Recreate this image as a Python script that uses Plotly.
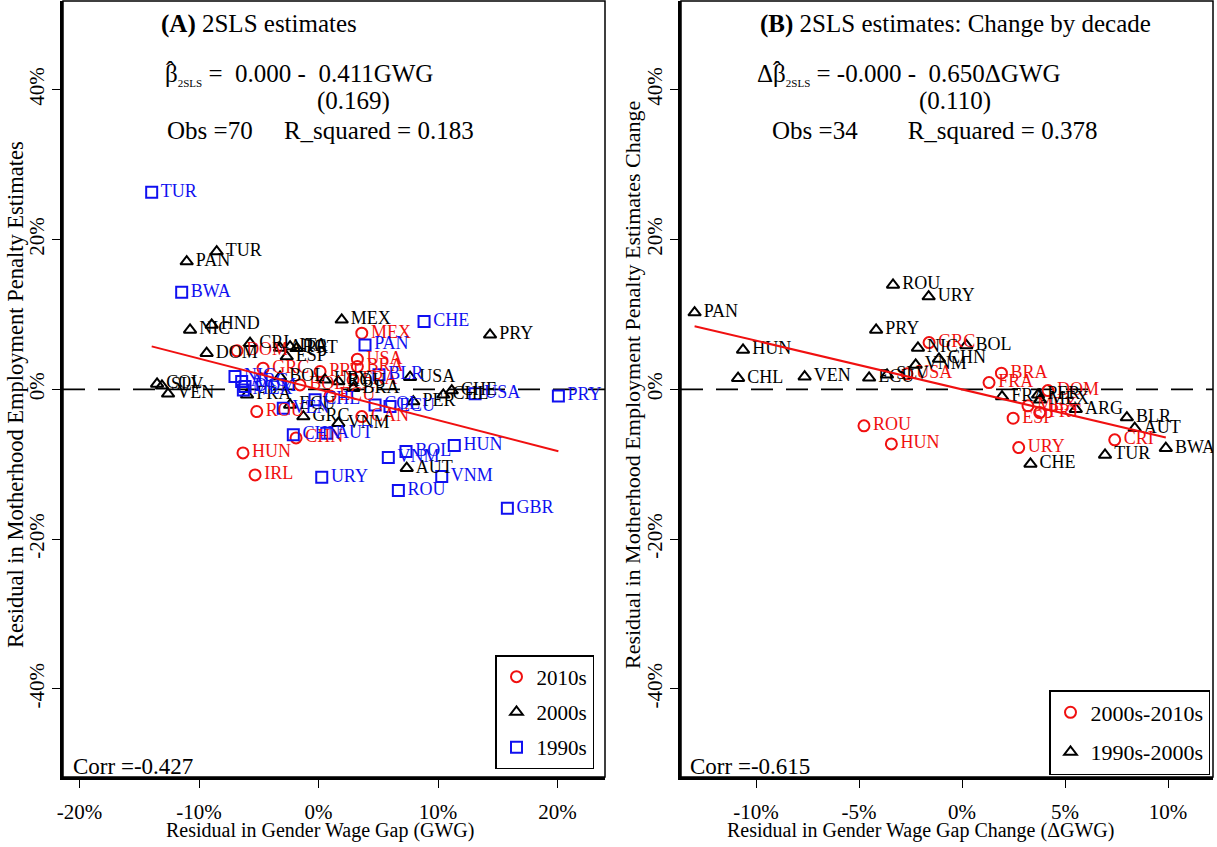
import plotly.graph_objects as go

FONT = "Liberation Serif"
RED = "#F01010"
BLACK = "#000000"
BLUE = "#1010F0"

# ---------------- Panel A data (residuals, %) ----------------
a10_lab = ["DOM", "GRC", "PRT", "MEX", "USA", "BRA", "BOL", "ECU", "FRA", "CAN", "ROU", "CHN", "HUN", "IRL"]
a10_x = [-6.82, -4.64, 0.13, 3.62, 3.25, 3.25, -1.55, 0.96, 2.89, 3.62, -5.17, -1.88, -6.32, -5.31]
a10_y = [5.14, 2.83, 2.38, 7.50, 4.03, 3.04, 0.60, -0.87, 1.27, -3.63, -2.96, -6.48, -8.48, -11.42]

a00_lab = ["TUR", "PAN", "NIC", "HND", "DOM", "CRI", "ARG", "ITA", "PRT", "ESP", "MEX", "PRY",
           "COL", "SLV", "VEN", "BOL", "FRA", "ECU", "URY", "ROU", "BRA", "USA", "CHL", "CHE",
           "PER", "GRC", "VNM", "AUT"]
a00_x = [-8.52, -11.03, -10.75, -8.94, -9.36, -5.73, -3.22, -2.38, -1.82, -2.66, 1.94, 14.35,
         -13.51, -13.10, -12.59, -3.22, -5.98, -2.38, 0.54, 1.66, 2.91, 7.66, 10.44, 11.15,
         7.93, -1.27, 1.66, 7.38]
a00_y = [18.40, 17.06, 7.94, 8.61, 4.83, 6.17, 5.54, 5.71, 5.50, 4.38, 9.28, 7.28,
         0.73, 0.47, -0.60, 1.67, -0.73, -2.07, 1.27, 1.04, 0.16, 1.63, -0.73, -0.16,
         -1.63, -3.63, -4.51, -10.52]

a90_lab = ["TUR", "BWA", "CHE", "PAN", "BLR", "USA", "PRY", "NIC", "ARG", "DOM", "MEX", "VEN",
           "CHL", "COL", "ECU", "CHN", "AUT", "HUN", "BOL", "VNM", "VNM", "URY", "ROU", "GBR"]
a90_x = [-13.96, -11.45, 8.83, 3.89, 5.06, 13.10, 20.07, -6.99, -6.43, -6.15, -6.29, -2.95,
         -0.29, 4.73, 5.98, -2.11, 0.69, 11.36, 7.32, 5.84, 10.31, 0.27, 6.68, 15.80]
a90_y = [26.33, 12.98, 9.05, 5.94, 1.94, -0.60, -0.87, 1.71, 1.04, 0.37, -0.07, -2.51,
         -1.40, -2.07, -2.30, -6.07, -5.85, -7.50, -8.30, -9.10, -11.64, -11.72, -13.51, -15.86]

# ---------------- Panel B data (changes, %) ----------------
b10_lab = ["GRC", "USA", "BRA", "FRA", "DOM", "MEX", "PRT", "ESP", "URY", "CRI", "ROU", "HUN"]
b10_x = [-1.60, -2.67, 1.91, 1.31, 4.17, 3.20, 3.77, 2.48, 2.75, 7.41, -4.76, -3.43]
b10_y = [6.25, 2.07, 2.16, 0.91, -0.16, -2.20, -3.10, -3.85, -7.77, -6.74, -4.87, -7.28]

b00_lab = ["PAN", "HUN", "CHL", "VEN", "ECU", "SLV", "PRY", "ROU", "URY", "NIC", "VNM",
           "CHN", "BOL", "FRA", "PER", "MEX", "ARG", "BLR", "AUT", "BWA", "TUR", "CHE"]
b00_x = [-12.98, -10.63, -10.87, -7.64, -4.51, -3.64, -4.17, -3.35, -1.62, -2.14, -2.25,
         -1.12, 0.21, 1.94, 3.69, 3.79, 5.52, 8.00, 8.38, 9.89, 6.94, 3.32]
b00_y = [10.25, 5.27, 1.50, 1.70, 1.54, 1.94, 7.94, 13.95, 12.39, 5.54, 3.27,
         4.07, 5.87, -0.96, -0.73, -1.40, -2.64, -3.76, -5.18, -7.85, -8.75, -9.95]

# fitted coefficients (reported in the chart)
coef_a = [0.000, -0.411]   # intercept, slope
coef_b = [-0.000, -0.650]

# axis ticks
xa_vals = [-20, -10, 0, 10, 20]
xa_text = ["-20%", "-10%", "0%", "10%", "20%"]
xb_vals = [-10, -5, 0, 5, 10]
xb_text = ["-10%", "-5%", "0%", "5%", "10%"]
y_vals = [-40, -20, 0, 20, 40]
y_text = ["-40%", "-20%", "0%", "20%", "40%"]

# ---------------- layout geometry ----------------
W, H = 1217, 847
L, R, T, B = 63, 4, 1, 70
PW, PH = W - L - R, H - T - B


def px(xp):
    return (xp - L) / PW


def py(yp):
    return (H - B - yp) / PH


fig = go.Figure()

MS = 11


def add_markers(x, y, sym, color, name, xa, ya, legend):
    fig.add_trace(go.Scatter(
        x=x, y=y, mode="markers", name=name, xaxis=xa, yaxis=ya,
        legend=legend, legendgroup=name + legend,
        marker=dict(symbol=sym, size=MS, color=color, line=dict(width=2, color=color)),
        hoverinfo="skip"))


def add_labels(x, y, lab, color, xa, ya):
    fig.add_trace(go.Scatter(
        x=x, y=y, mode="markers+text", text=lab, textposition="middle right",
        textfont=dict(family=FONT, size=18, color=color), xaxis=xa, yaxis=ya,
        marker=dict(size=MS + 2, color="rgba(0,0,0,0)"), showlegend=False, hoverinfo="skip"))


# Panel A
add_markers(a10_x, a10_y, "circle-open", RED, "2010s", "x", "y", "legend")
add_markers(a00_x, a00_y, "triangle-up-open", BLACK, "2000s", "x", "y", "legend")
add_markers(a90_x, a90_y, "square-open", BLUE, "1990s", "x", "y", "legend")
add_labels(a10_x, a10_y, a10_lab, RED, "x", "y")
add_labels(a00_x, a00_y, a00_lab, BLACK, "x", "y")
add_labels(a90_x, a90_y, a90_lab, BLUE, "x", "y")

# Panel B
add_markers(b10_x, b10_y, "circle-open", RED, "2000s-2010s", "x2", "y2", "legend2")
add_markers(b00_x, b00_y, "triangle-up-open", BLACK, "1990s-2000s", "x2", "y2", "legend2")
add_labels(b10_x, b10_y, b10_lab, RED, "x2", "y2")
add_labels(b00_x, b00_y, b00_lab, BLACK, "x2", "y2")

# fitted lines
ax_all = a10_x + a00_x + a90_x
fa = [min(ax_all), max(ax_all)]
fig.add_trace(go.Scatter(x=fa, y=[coef_a[0] + coef_a[1] * v for v in fa], mode="lines",
                         line=dict(color=RED, width=2), xaxis="x", yaxis="y",
                         showlegend=False, hoverinfo="skip"))
bx_all = b10_x + b00_x
fb = [min(bx_all), max(bx_all)]
fig.add_trace(go.Scatter(x=fb, y=[coef_b[0] + coef_b[1] * v for v in fb], mode="lines",
                         line=dict(color=RED, width=2), xaxis="x2", yaxis="y2",
                         showlegend=False, hoverinfo="skip"))

axis_common = dict(showgrid=False, zeroline=False, showline=True, linecolor="black",
                   linewidth=2.5, ticks="outside", ticklen=8, tickwidth=1.3, tickcolor="black",
                   tickfont=dict(family=FONT, size=21, color="black"))

fig.update_layout(
    width=W, height=H, margin=dict(l=L, r=R, t=T, b=B),
    paper_bgcolor="white", plot_bgcolor="white",
    font=dict(family=FONT, color="black"),
    xaxis=dict(domain=[0, px(605)], range=[-21.38, 23.97], tickmode="array",
               tickvals=xa_vals, ticktext=xa_text, anchor="y", ticklabelstandoff=6, **axis_common),
    yaxis=dict(domain=[0, 1], range=[-51.75, 51.85], tickmode="array", tickvals=y_vals,
               ticktext=y_text, tickangle=-90, anchor="x", **axis_common),
    xaxis2=dict(domain=[px(681), 1], range=[-13.64, 12.18], tickmode="array",
                tickvals=xb_vals, ticktext=xb_text, anchor="y2", ticklabelstandoff=6, **axis_common),
    yaxis2=dict(domain=[0, 1], range=[-51.75, 51.85], tickmode="array", tickvals=y_vals,
                ticktext=y_text, tickangle=-90, anchor="x2", **axis_common),
    legend=dict(x=px(594), xanchor="right", y=py(655), yanchor="top", bgcolor="white",
                bordercolor="black", borderwidth=1.5, font=dict(family=FONT, size=21),
                tracegroupgap=5, traceorder="grouped"),
    legend2=dict(x=px(1210), xanchor="right", y=py(690), yanchor="top", bgcolor="white",
                 bordercolor="black", borderwidth=1.5, font=dict(family=FONT, size=22),
                 tracegroupgap=8, traceorder="grouped"),
    showlegend=True,
)

# frames and zero lines
for xr, yr in [("x domain", "y domain"), ("x2 domain", "y2 domain")]:
    fig.add_shape(type="rect", xref=xr, yref=yr, x0=0, x1=1, y0=0, y1=1,
                  line=dict(color="black", width=1.5), layer="above")
fig.add_shape(type="line", xref="x domain", yref="y", x0=0, x1=1, y0=0, y1=0,
              line=dict(color="black", width=1.6, dash="22px,13px"), layer="below")
fig.add_shape(type="line", xref="x2 domain", yref="y2", x0=0, x1=1, y0=0, y1=0,
              line=dict(color="black", width=1.6, dash="22px,13px"), layer="below")

NB = "\u00a0"
SUB = '<sub><span style="font-size:11px">2SLS</span></sub>'
ann = [
    # panel A texts
    dict(text="<b>(A)</b> 2SLS estimates", x=px(259), y=py(24), xanchor="center", size=25),
    dict(text="\u03b2" + SUB + " =" + NB * 2 + "0.000 -" + NB * 2 + "0.411GWG",
         x=px(163), y=py(74), xanchor="left", size=25),
    dict(text="\u02c6", x=px(170), y=py(70), xanchor="center", size=25),
    dict(text="(0.169)", x=px(353), y=py(101), xanchor="center", size=25),
    dict(text="Obs =70" + NB * 5 + "R_squared = 0.183", x=px(165), y=py(131), xanchor="left", size=25),
    dict(text="Corr =-0.427", x=px(71), y=py(766), xanchor="left", size=23),
    # panel B texts
    dict(text="<b>(B)</b> 2SLS estimates: Change by decade", x=px(955), y=py(24), xanchor="center", size=25),
    dict(text="\u0394\u03b2" + SUB + " = -0.000 -" + NB * 2 + "0.650\u0394GWG",
         x=px(755), y=py(74), xanchor="left", size=25),
    dict(text="\u02c6", x=px(777.5), y=py(70), xanchor="center", size=25),
    dict(text="(0.110)", x=px(955), y=py(101), xanchor="center", size=25),
    dict(text="Obs =34" + NB * 8 + "R_squared = 0.378", x=px(770), y=py(131), xanchor="left", size=25),
    dict(text="Corr =-0.615", x=px(688), y=py(766), xanchor="left", size=23),
    # axis titles
    dict(text="Residual in Gender Wage Gap (GWG)", x=px(320), y=py(830), xanchor="center", size=20),
    dict(text="Residual in Gender Wage Gap Change (\u0394GWG)", x=px(920), y=py(830), xanchor="center", size=20),
]
for a in ann:
    fig.add_annotation(text=a["text"], x=a["x"], y=a["y"], xref="paper", yref="paper",
                       xanchor=a["xanchor"], yanchor="middle", showarrow=False,
                       font=dict(family=FONT, size=a["size"], color="black"))

fig.add_annotation(text="Residual in Motherhood Employment Penalty Estimates", x=px(15), y=py(395),
                   xref="paper", yref="paper", textangle=-90, showarrow=False,
                   xanchor="center", yanchor="middle", font=dict(family=FONT, size=22.5, color="black"))
fig.add_annotation(text="Residual in Motherhood Employment Penalty Estimates Change", x=px(632), y=py(385),
                   xref="paper", yref="paper", textangle=-90, showarrow=False,
                   xanchor="center", yanchor="middle", font=dict(family=FONT, size=22, color="black"))

fig.write_html("out.html", config={"displayModeBar": False},
               post_script="document.body.style.margin='0';document.body.style.overflow='hidden';")
